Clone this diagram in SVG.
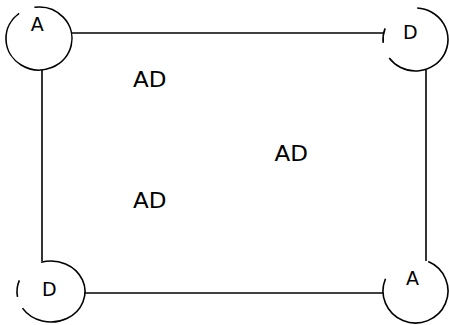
<svg xmlns="http://www.w3.org/2000/svg" width="449" height="325" viewBox="0 0 449 325">
  <style>
    .edge { fill: none; stroke: #000; stroke-width: 1.6; }
    .ring { fill: none; stroke: #000; stroke-width: 1.6; }
    .tag { font-family: "DejaVu Sans", "Liberation Sans", sans-serif; font-size: 19px; fill: #000; text-anchor: middle; }
    .note { font-family: "DejaVu Sans", "Liberation Sans", sans-serif; font-size: 21.5px; fill: #000; }
  </style>
  <rect width="449" height="325" fill="#fff"/>

  <!-- connectors between the corner nodes -->
  <g id="connectors">
    <path class="edge" d="M72,33 H384"/>
    <path class="edge" d="M42,70 V261"/>
    <path class="edge" d="M426,70 V261"/>
    <path class="edge" d="M84,293 H383"/>
  </g>

  <!-- corner nodes: open rings with a letter -->
  <g id="node-a-top">
    <path class="ring" d="M34.41,7.31 A33,31.5 0 1 1 19.14,13.34"/>
    <text class="tag" x="37.3" y="30.5">A</text>
  </g>
  <g id="node-d-top">
    <path class="ring" d="M417.2,8.04 A32.5,31.5 0 1 1 389.21,58.02"/>
    <path class="ring" d="M383.18,42.79 A32.5,31.5 0 0 1 385.1,28.37"/>
    <text class="tag" x="410.2" y="39.3">D</text>
  </g>
  <g id="node-d-bottom">
    <path class="ring" d="M41.06,262.33 A34,30.5 0 1 1 22.48,308.11"/>
    <path class="ring" d="M17.52,296.8 A34,30.5 0 0 1 19.37,280.32"/>
    <text class="tag" x="49.2" y="296.3">D</text>
  </g>
  <g id="node-a-bottom">
    <path class="ring" d="M428.2,261.54 A32.5,32 0 1 1 385.5,278.7"/>
    <text class="tag" x="412.5" y="285.3">A</text>
  </g>

  <!-- free labels -->
  <g id="labels">
    <text class="note" x="133" y="86.5" textLength="33.5" lengthAdjust="spacingAndGlyphs">AD</text>
    <text class="note" x="274.5" y="161" textLength="33.5" lengthAdjust="spacingAndGlyphs">AD</text>
    <text class="note" x="133" y="208" textLength="33.5" lengthAdjust="spacingAndGlyphs">AD</text>
  </g>
</svg>
